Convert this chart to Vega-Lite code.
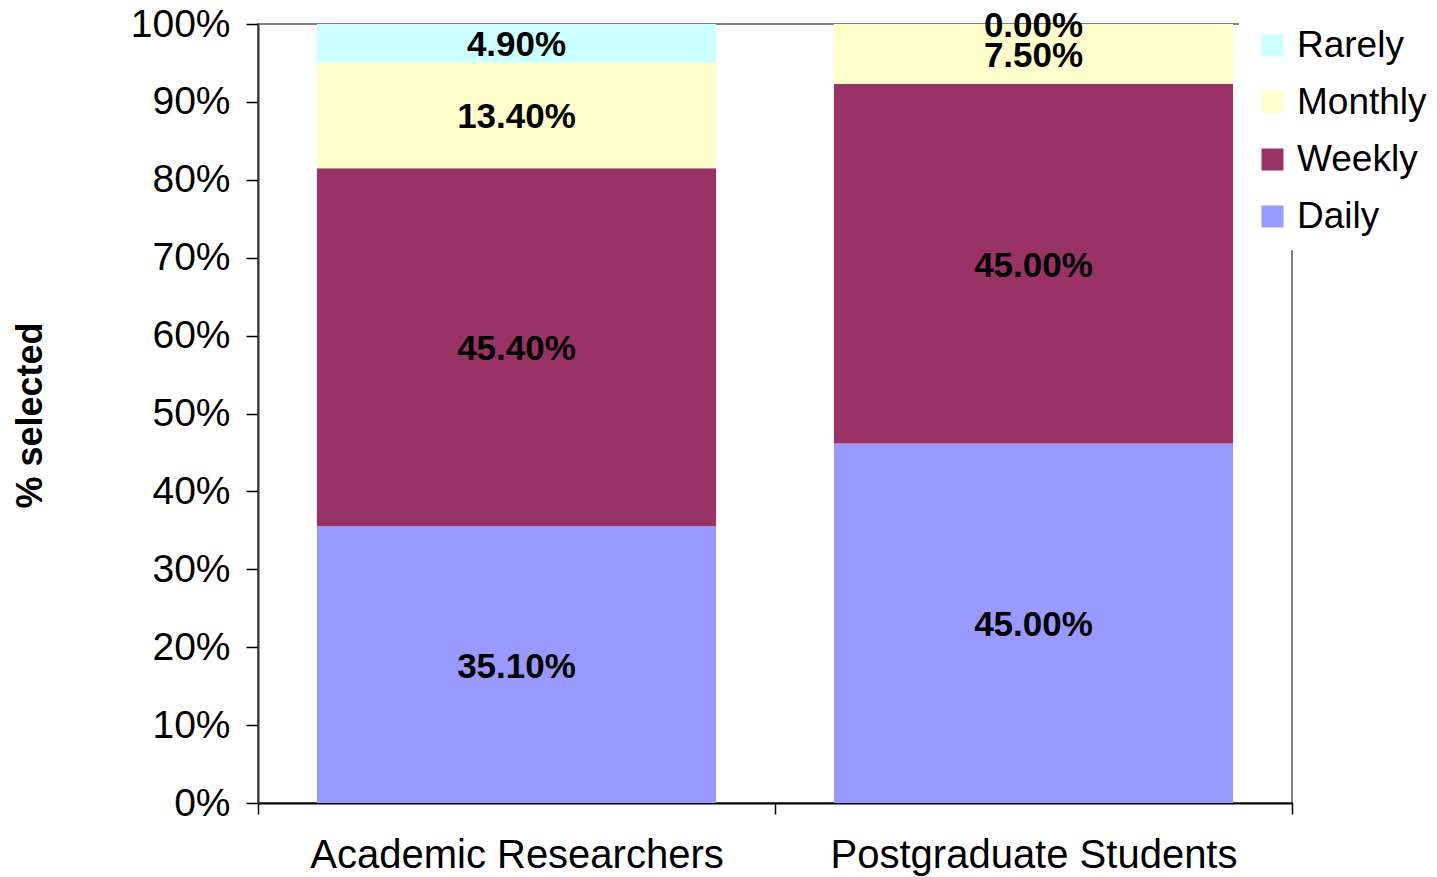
{
  "$schema": "https://vega.github.io/schema/vega-lite/v6.json",
  "width": 1034,
  "height": 779,
  "autosize": {"type": "none"},
  "padding": {"left": 258, "top": 24, "right": 145, "bottom": 74},
  "background": "white",
  "config": {
    "font": "Liberation Sans",
    "view": {"stroke": "#808080", "strokeWidth": 2}
  },
  "data": {
    "values": [
      {"Group": "Academic Researchers", "Frequency": "Daily", "Rank": 1, "Share": 0.351},
      {"Group": "Academic Researchers", "Frequency": "Weekly", "Rank": 2, "Share": 0.454},
      {"Group": "Academic Researchers", "Frequency": "Monthly", "Rank": 3, "Share": 0.134},
      {"Group": "Academic Researchers", "Frequency": "Rarely", "Rank": 4, "Share": 0.049},
      {"Group": "Postgraduate Students", "Frequency": "Daily", "Rank": 1, "Share": 0.45},
      {"Group": "Postgraduate Students", "Frequency": "Weekly", "Rank": 2, "Share": 0.45},
      {"Group": "Postgraduate Students", "Frequency": "Monthly", "Rank": 3, "Share": 0.075},
      {"Group": "Postgraduate Students", "Frequency": "Rarely", "Rank": 4, "Share": 0.0}
    ]
  },
  "encoding": {
    "x": {
      "field": "Group",
      "type": "nominal",
      "sort": ["Academic Researchers", "Postgraduate Students"],
      "scale": {"paddingInner": 0, "paddingOuter": 0},
      "axis": {
        "title": null,
        "labelAngle": 0,
        "labelFontSize": 40,
        "labelColor": "black",
        "labelLimit": 0,
        "domainColor": "black",
        "domainWidth": 2,
        "tickColor": "black",
        "tickSize": 11,
        "tickWidth": 1.5,
        "tickBand": "extent",
        "labelPadding": 21,
        "grid": false
      }
    },
    "y": {
      "field": "Share",
      "type": "quantitative",
      "stack": "normalize",
      "scale": {"domain": [0, 1]},
      "axis": {
        "title": "% selected",
        "titleFontSize": 36,
        "titleFontWeight": "bold",
        "titleColor": "black",
        "titleX": -228,
        "titleY": 391,
        "titleBaseline": "middle",
        "format": ".0%",
        "values": [0, 0.1, 0.2, 0.3, 0.4, 0.5, 0.6, 0.7, 0.8, 0.9, 1],
        "labelFontSize": 39,
        "labelColor": "black",
        "labelPadding": 16,
        "tickSize": 12,
        "tickColor": "black",
        "tickWidth": 1.5,
        "domainColor": "#333333",
        "domainWidth": 2,
        "grid": false
      }
    },
    "order": {"field": "Rank", "type": "quantitative"}
  },
  "layer": [
    {
      "mark": {"type": "bar", "width": {"band": 0.772}},
      "encoding": {
        "color": {
          "field": "Frequency",
          "type": "nominal",
          "scale": {
            "domain": ["Rarely", "Monthly", "Weekly", "Daily"],
            "range": ["#CCFFFF", "#FFFFCC", "#993366", "#9999FF"]
          },
          "legend": {
            "orient": "none",
            "legendX": 981,
            "legendY": -12,
            "title": null,
            "fillColor": "white",
            "padding": 15,
            "symbolType": "square",
            "symbolSize": 484,
            "symbolStrokeWidth": 0,
            "labelFontSize": 37,
            "labelColor": "black",
            "rowPadding": 19,
            "labelOffset": 6,
            "direction": "vertical"
          }
        }
      }
    },
    {
      "mark": {"type": "text", "fontWeight": "bold", "fontSize": 35, "baseline": "middle", "color": "black", "dy": 2},
      "encoding": {
        "y": {"field": "Share", "type": "quantitative", "stack": "normalize", "bandPosition": 0.5},
        "detail": {"field": "Frequency"},
        "text": {"field": "Share", "type": "quantitative", "format": ".2%"}
      }
    }
  ]
}
